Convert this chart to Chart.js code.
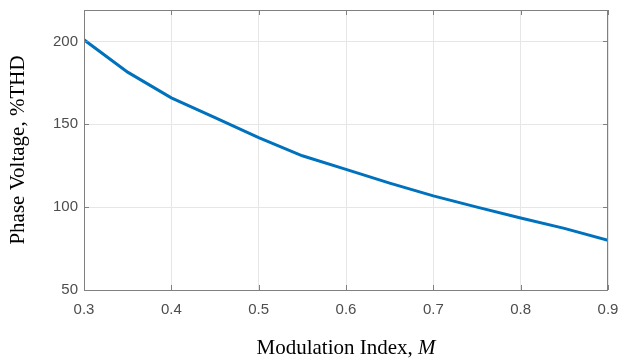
<!DOCTYPE html>
<html>
<head>
<meta charset="utf-8">
<script src="https://cdn.jsdelivr.net/npm/chart.js@4/dist/chart.umd.min.js"></script>
<style>
  html, body { margin: 0; padding: 0; background: #fff; }
  #wrap { width: 622px; height: 360px; }
</style>
</head>
<body>
<div id="wrap"><canvas id="c"></canvas></div>
<script>
const modIndex = [0.3, 0.35, 0.4, 0.45, 0.5, 0.55, 0.6, 0.65, 0.7, 0.75, 0.8, 0.85, 0.9];
const thd = [201, 181.5, 166, 154, 142, 131, 122.8, 114.5, 106.8, 100, 93.5, 87.2, 80];
const yTicks = [50, 100, 150, 200];

const axisGray = '#808080';
const labelGray = '#4d4d4d';

// box round the plot area plus the small inward ticks MATLAB draws
const boxPlugin = {
  id: 'box',
  afterDraw(chart) {
    const { ctx, chartArea: a, scales } = chart;
    ctx.save();
    ctx.strokeStyle = axisGray;
    ctx.lineWidth = 1;
    ctx.strokeRect(a.left + 0.5, a.top + 0.5, a.right - a.left - 1, a.bottom - a.top);
    ctx.beginPath();
    scales.x.ticks.forEach(t => {
      const px = Math.round(scales.x.getPixelForValue(t.value)) + 0.5;
      ctx.moveTo(px, a.bottom); ctx.lineTo(px, a.bottom - 5);
      ctx.moveTo(px, a.top); ctx.lineTo(px, a.top + 5);
    });
    scales.y.ticks.forEach(t => {
      const py = Math.round(scales.y.getPixelForValue(t.value)) + 0.5;
      ctx.moveTo(a.left, py); ctx.lineTo(a.left + 5, py);
      ctx.moveTo(a.right, py); ctx.lineTo(a.right - 5, py);
    });
    ctx.stroke();

    // x title with the italic M, drawn centred under the axis
    const xs = scales.x;
    const f1 = '21px "Liberation Serif"';
    const f2 = 'italic 21px "Liberation Serif"';
    const t1 = 'Modulation Index, ', t2 = 'M';
    ctx.font = f1; const w1 = ctx.measureText(t1).width;
    ctx.font = f2; const w2 = ctx.measureText(t2).width;
    const cx = (xs.left + xs.right) / 2;
    let x0 = cx - (w1 + w2) / 2;
    ctx.fillStyle = '#000';
    ctx.textBaseline = 'middle';
    ctx.textAlign = 'left';
    ctx.font = f1; ctx.fillText(t1, x0, xs.bottom - 12);
    ctx.font = f2; ctx.fillText(t2, x0 + w1, xs.bottom - 12);
    ctx.restore();
  }
};

new Chart(document.getElementById('c'), {
  type: 'line',
  data: {
    datasets: [{
      data: modIndex.map((m, i) => ({ x: m, y: thd[i] })),
      borderColor: '#0072BD',
      borderWidth: 3,
      pointRadius: 0,
      tension: 0,
      fill: false
    }]
  },
  options: {
    responsive: true,
    maintainAspectRatio: false,
    animation: false,
    layout: { padding: { top: 10, right: 14, left: 0, bottom: 0 } },
    plugins: { legend: { display: false }, tooltip: { enabled: false } },
    scales: {
      x: {
        type: 'linear',
        min: 0.3,
        max: 0.9,
        afterFit: s => { s.height = 70; s.paddingLeft = 0; s.paddingRight = 0; },
        ticks: {
          stepSize: 0.1,
          color: labelGray,
          font: { family: 'Liberation Sans', size: 15 },
          padding: 11,
          callback: v => v.toFixed(1)
        },
        grid: { color: '#e6e6e6', tickLength: 0 },
        border: { display: false },
        title: { display: false }
      },
      y: {
        min: 50,
        max: 219,
        afterFit: s => { s.width = 84; s.paddingTop = 0; s.paddingBottom = 0; },
        afterBuildTicks: s => { s.ticks = yTicks.map(v => ({ value: v })); },
        ticks: {
          color: labelGray,
          font: { family: 'Liberation Sans', size: 15 },
          padding: 6
        },
        grid: { color: '#e6e6e6', tickLength: 0 },
        border: { display: false },
        title: {
          display: true,
          text: 'Phase Voltage, %THD',
          color: '#000',
          font: { family: 'Liberation Serif', size: 21 },
          padding: { top: 6, bottom: 0 }
        }
      }
    }
  },
  plugins: [boxPlugin]
});
</script>
</body>
</html>
